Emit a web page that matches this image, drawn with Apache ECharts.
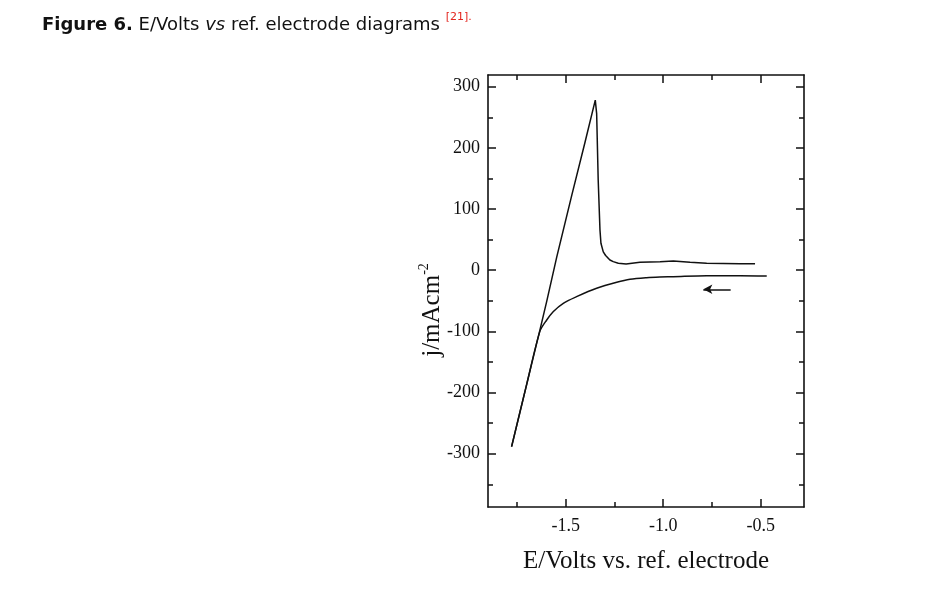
<!DOCTYPE html>
<html>
<head>
<meta charset="utf-8">
<script src="https://cdn.jsdelivr.net/npm/echarts@6/dist/echarts.min.js"></script>
<style>
html,body{margin:0;padding:0;background:#fff;}
#main{width:948px;height:610px;}
</style>
</head>
<body>
<div id="main"></div>
<script>
// Cathodic scan (lower branch, swept right to left, see arrow)
const cathodicE = [-0.469, -0.606, -0.777, -0.948, -1.017, -1.085, -1.170, -1.238, -1.341, -1.444, -1.512, -1.564, -1.597, -1.632, -1.700, -1.777];
const cathodicJ = [-9.5, -9, -9, -10.6, -11.1, -12.2, -14.9, -19.8, -29.6, -43.3, -54.1, -67.8, -81.4, -100, -187, -288.5];

// Anodic scan (rising line, peak, and upper plateau)
const anodicE = [-1.777, -1.700, -1.632, -1.597, -1.546, -1.469, -1.400, -1.348, -1.341, -1.333, -1.324, -1.319, -1.307, -1.295, -1.273, -1.256, -1.230, -1.190, -1.119, -1.016, -0.948, -0.862, -0.777, -0.606, -0.529];
const anodicJ = [-288.5, -187, -98, -51, 21, 122, 210, 278, 256, 147, 66, 44, 30, 24, 16.7, 14, 11.3, 10.2, 12.9, 14, 15, 13, 11.3, 10.6, 10.6];

// Scan direction arrow
const arrowE = [-0.654, -0.794];
const arrowJ = -31.2;

// Axis ticks
const xMajor = [-1.5, -1.0, -0.5];
const xMinor = [-1.75, -1.25, -0.75];
const yMajor = [-300, -200, -100, 0, 100, 200, 300];
const yMinor = [-350, -250, -150, -50, 50, 150, 250];
const xRange = [-1.898, -0.278];
const yRange = [-387.1, 319.1];

const serif = 'Liberation Serif';

function mkX(pos, ticks, len, labels, line) {
  return {
    type: 'value', position: pos, min: xRange[0], max: xRange[1],
    axisLine: {show: line, onZero: false, lineStyle: {color: '#111', width: 1.6}},
    axisTick: {show: true, inside: true, length: len, customValues: ticks, lineStyle: {color: '#111', width: 1.5}},
    axisLabel: labels ? {show: true, customValues: ticks, margin: 10, color: '#111', fontFamily: serif, fontSize: 18,
      formatter: v => v.toFixed(1)} : {show: false},
    splitLine: {show: false}
  };
}
function mkY(pos, ticks, len, labels, line) {
  return {
    type: 'value', position: pos, min: yRange[0], max: yRange[1],
    axisLine: {show: line, onZero: false, lineStyle: {color: '#111', width: 1.6}},
    axisTick: {show: true, inside: true, length: len, customValues: ticks, lineStyle: {color: '#111', width: 1.5}},
    axisLabel: labels ? {show: true, customValues: ticks, margin: 8, color: '#111', fontFamily: serif, fontSize: 18} : {show: false},
    splitLine: {show: false}
  };
}

const chart = echarts.init(document.getElementById('main'), null, {renderer: 'canvas'});
const xAxes = [mkX('bottom', xMajor, 8, true, true), mkX('bottom', xMinor, 5, false, false),
               mkX('top', xMajor, 8, false, true), mkX('top', xMinor, 5, false, false)];
xAxes[0].name = 'E/Volts vs. ref. electrode';
xAxes[0].nameLocation = 'middle';
xAxes[0].nameGap = 42;
xAxes[0].nameTextStyle = {color: '#111', fontFamily: serif, fontSize: 25};

const yAxes = [mkY('left', yMajor, 8, true, true), mkY('left', yMinor, 5, false, false),
               mkY('right', yMajor, 8, false, true), mkY('right', yMinor, 5, false, false)];

chart.setOption({
  backgroundColor: '#fff',
  animation: false,
  grid: {left: 488, top: 75, width: 316, height: 432, containLabel: false, outerBoundsMode: 'none'},
  xAxis: xAxes,
  yAxis: yAxes,
  graphic: [
    {
      type: 'text', left: 42, top: 12,
      style: {
        text: '{b|Figure 6.}{n| E/Volts }{i|vs}{n| ref. electrode diagrams }{r|[21].}',
        rich: {
          b: {fontFamily: 'DejaVu Sans', fontSize: 18, fontWeight: 'bold', fill: '#111', lineHeight: 22, verticalAlign: 'bottom'},
          n: {fontFamily: 'DejaVu Sans', fontSize: 18, fill: '#111', lineHeight: 22, verticalAlign: 'bottom'},
          i: {fontFamily: 'DejaVu Sans', fontSize: 18, fontStyle: 'italic', fill: '#111', lineHeight: 22, verticalAlign: 'bottom'},
          r: {fontFamily: 'DejaVu Sans', fontSize: 11, fill: '#e3261f', lineHeight: 22, verticalAlign: 'top'}
        }
      }
    },
    {
      type: 'text', x: 431, y: 310, rotation: Math.PI / 2,
      style: {
        text: '{m|j/mAcm}{s|-2}',
        align: 'center', verticalAlign: 'middle',
        rich: {
          m: {fontFamily: serif, fontSize: 25, fill: '#111', lineHeight: 28, verticalAlign: 'bottom'},
          s: {fontFamily: serif, fontSize: 14, fill: '#111', lineHeight: 28, verticalAlign: 'top'}
        }
      }
    }
  ],
  series: [
    {
      type: 'line', xAxisIndex: 0, yAxisIndex: 0, smooth: 0.3, showSymbol: false, silent: true,
      data: cathodicE.map((e, i) => [e, cathodicJ[i]]),
      lineStyle: {color: '#111', width: 1.5},
      markLine: {
        silent: true, symbol: ['none', 'arrow'], symbolSize: [7, 9],
        label: {show: false},
        lineStyle: {color: '#111', width: 1.5, type: 'solid'},
        data: [[{coord: [arrowE[0], arrowJ]}, {coord: [arrowE[1], arrowJ]}]]
      }
    },
    {
      type: 'line', xAxisIndex: 0, yAxisIndex: 0, smooth: false, showSymbol: false, silent: true,
      data: anodicE.map((e, i) => [e, anodicJ[i]]),
      lineStyle: {color: '#111', width: 1.5}
    }
  ]
});
</script>
</body>
</html>
